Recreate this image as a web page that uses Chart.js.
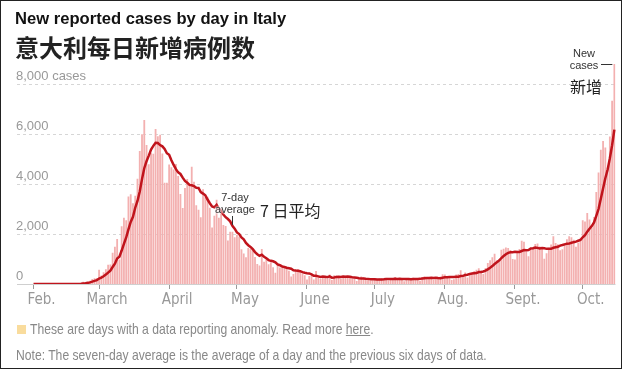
<!DOCTYPE html>
<html>
<head>
<meta charset="utf-8">
<script src="https://cdn.jsdelivr.net/npm/chart.js@4"></script>
<style>
  html, body { margin: 0; padding: 0; background: #fff; }
  #frame { position: relative; width: 622px; height: 369px; box-sizing: border-box; border: 1px solid #222; overflow: hidden; }
  #chart { position: absolute; left: 0; top: 0; }
  .t { position: absolute; white-space: nowrap; }
  #title { left: 14px; top: 8px; font: bold 16.6px "Liberation Sans", Arial, sans-serif; color: #121212; }
  #subtitle { left: 14px; top: 31px; font: bold 24px "Noto Sans CJK SC", sans-serif; color: #222; line-height: 30px; }
  .ann { font: 11px "Liberation Sans", Arial, sans-serif; color: #333; text-align: center; line-height: 12px;
         text-shadow: 0 0 2px #fff, 0 0 2px #fff, 0 0 2px #fff; }
  .zh { font: 16px "Noto Sans CJK SC", sans-serif; color: #222; line-height: 18px; }
  .foot { font: 15px "Liberation Sans", Arial, sans-serif; color: #888; line-height: 16px;
          transform: scaleX(0.81); transform-origin: 0 0; }
  #swatch { position: absolute; left: 16px; top: 324px; width: 9px; height: 9px; background: #f9dc9d; }
  #foot1 { left: 29px; top: 320px; }
  #foot2 { left: 15px; top: 346px; }
  #foot1 u { text-decoration: underline; }
</style>
</head>
<body>
<div id="frame">
  <canvas id="chart" width="622" height="320"></canvas>
  <div class="t" id="title">New reported cases by day in Italy</div>
  <div class="t" id="subtitle">意大利每日新增病例数</div>
  <div class="t ann" style="left:213px; top:190px; width:42px;">7-day<br>average</div>
  <div class="t zh" style="left:259px; top:200px;">7 日平均</div>
  <div class="t ann" style="left:566px; top:46px; width:34px;">New<br>cases</div>
  <div class="t zh" style="left:569px; top:76px;">新增</div>
  <div id="swatch"></div>
  <div class="t foot" id="foot1">These are days with a data reporting anomaly. Read more <u>here</u>.</div>
  <div class="t foot" id="foot2">Note: The seven-day average is the average of a day and the previous six days of data.</div>
</div>
<script>
/* ---------------- DATA: new cases per day, Feb 1 - Oct 15 ---------------- */
const casesFeb = [0,0,0,0,0,1,0,0,0,0,0,0,0,0,0,0,0,0,0,0,17,42,93,74,93,131,202,233,240];
const casesMar = [566,342,466,587,769,778,1247,1492,1797,977,2313,2651,2547,3497,3590,3233,3526,4207,5322,5986,6557,5560,4789,5249,5210,6203,5909,5974,5217,4050,4053];
const casesApr = [4782,4668,4585,4805,4316,3599,3039,3836,4204,3951,4694,4092,3153,2972,2667,3786,3493,3491,3047,2256,2729,3370,2646,3021,2357,2324,1739,2091,2086,1872];
const casesMay = [1965,1900,1389,1221,1075,1444,1401,1327,1083,802,744,1402,888,992,789,875,675,451,813,665,642,652,669,531,300,397,584,593,516,416,355];
const casesJun = [178,318,321,177,518,270,197,280,283,202,379,163,346,338,301,210,329,333,251,262,224,218,122,190,296,259,175,174,126,142];
const casesJul = [187,201,223,235,192,208,138,193,229,276,188,234,169,114,163,230,233,249,219,218,129,282,306,252,275,255,170,181,212,289,386];
const casesAug = [379,295,238,159,190,384,402,552,347,463,259,412,481,523,574,629,479,403,642,845,947,1071,1210,953,878,1367,1411,1462,1444,1365,996];
const casesSep = [978,1326,1397,1733,1695,1297,1108,1370,1434,1597,1616,1501,1458,1008,1229,1452,1585,1907,1638,1587,1350,1392,1640,1786,1912,1869,1766,1494,1648,1851];
const casesOct = [2548,2499,2844,2578,2257,2677,3678,4458,5372,5724,5456,4619,5901,7332,8804];

const monthLabels = ['Feb.', 'March', 'April', 'May', 'June', 'July', 'Aug.', 'Sept.', 'Oct.'];
const yTicks = [0, 2000, 4000, 6000, 8000];

/* ---------------- build series ---------------- */
const months = [casesFeb, casesMar, casesApr, casesMay, casesJun, casesJul, casesAug, casesSep, casesOct];
const daily = [].concat(...months);
const dayLabels = [];
const monthStart = {};
months.forEach((m, mi) => {
  m.forEach((v, d) => {
    if (d === 0) monthStart[dayLabels.length] = monthLabels[mi];
    dayLabels.push(monthLabels[mi] + ' ' + (d + 1));
  });
});
// seven-day average: the day and the previous six days
const avg7 = daily.map((v, i) => {
  const win = daily.slice(Math.max(0, i - 6), i + 1);
  return win.reduce((a, b) => a + b, 0) / win.length;
});

/* ---------------- plugin: gridlines, y labels, pointers ---------------- */
const decor = {
  id: 'decor',
  beforeDatasetsDraw(chart) {
    const { ctx, chartArea, scales: { y } } = chart;
    ctx.save();
    yTicks.forEach(t => {
      const py = Math.round(y.getPixelForValue(t)) + 0.5;
      ctx.beginPath();
      ctx.strokeStyle = t === 0 ? '#cfcfcf' : '#d6d6d6';
      ctx.lineWidth = 1;
      ctx.setLineDash(t === 0 ? [] : [3, 3]);
      ctx.moveTo(16, py);
      ctx.lineTo(chartArea.right, py);
      ctx.stroke();
      ctx.setLineDash([]);
      ctx.fillStyle = '#999';
      ctx.font = '13px "Liberation Sans", Arial, sans-serif';
      ctx.textBaseline = 'bottom';
      ctx.textAlign = 'left';
      const txt = t.toLocaleString('en-US') + (t === 8000 ? ' cases' : '');
      ctx.fillText(txt, 15, py - 2);
    });
    ctx.restore();
  },
  afterDatasetsDraw(chart) {
    const { ctx, scales: { x, y } } = chart;
    ctx.save();
    ctx.strokeStyle = '#333';
    ctx.lineWidth = 1;
    // 7-day average pointer
    const i = 88;
    const px = Math.round(x.getPixelForValue(i)) + 0.5;
    ctx.beginPath();
    ctx.moveTo(px, 215);
    ctx.lineTo(px, y.getPixelForValue(avg7[i]) - 1);
    ctx.stroke();
    // new cases pointer
    const last = daily.length - 1;
    const ly = Math.round(y.getPixelForValue(daily[last])) + 0.5;
    ctx.beginPath();
    ctx.moveTo(600, ly);
    ctx.lineTo(x.getPixelForValue(last) - 2, ly);
    ctx.stroke();
    ctx.restore();
  }
};

/* ---------------- chart ---------------- */
const chart = new Chart(document.getElementById('chart'), {
  type: 'bar',
  data: {
    labels: dayLabels,
    datasets: [
      { type: 'line', data: avg7, borderColor: '#c0141c', borderWidth: 2.5, pointRadius: 0, tension: 0, order: 0 },
      { type: 'bar', data: daily, backgroundColor: '#f3b0b0', barPercentage: 0.8, categoryPercentage: 1, order: 1 }
    ]
  },
  options: {
    responsive: false,
    animation: false,
    events: [],
    layout: { padding: { left: 31.4, right: 7.5, top: 58, bottom: 7 } },
    plugins: { legend: { display: false }, tooltip: { enabled: false } },
    scales: {
      x: {
        offset: true,
        border: { display: false },
        grid: {
          offset: false,
          drawOnChartArea: false,
          tickLength: 5,
          color: c => (monthStart[c.index] ? '#999' : 'rgba(0,0,0,0)')
        },
        ticks: {
          autoSkip: false,
          maxRotation: 0,
          minRotation: 0,
          labelOffset: 8,
          padding: 2,
          color: '#999',
          font: { family: '"DejaVu Sans Condensed", sans-serif', size: 15 },
          callback: (v, i) => monthStart[i] || ''
        },
        afterFit: s => { s.height = 30; }
      },
      y: { display: false, min: 0, max: 9000 }
    }
  },
  plugins: [decor]
});
</script>
</body>
</html>
